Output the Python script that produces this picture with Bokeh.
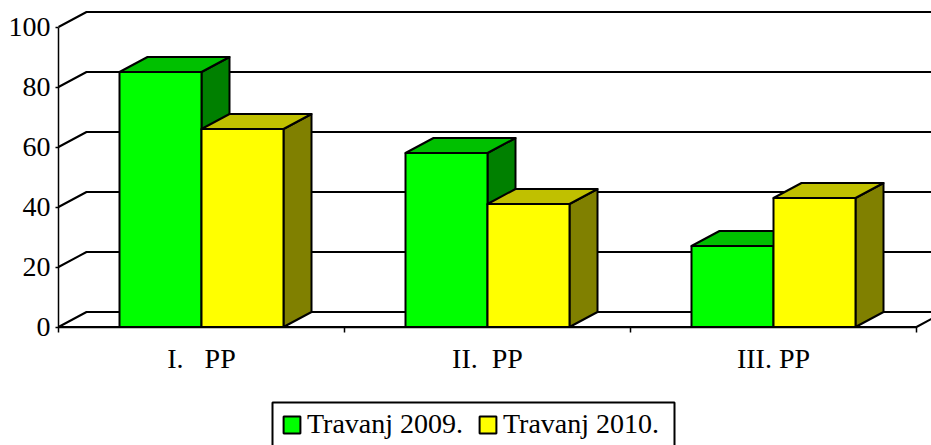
from bokeh.plotting import figure
from bokeh.embed import file_html
from bokeh.resources import INLINE
from bokeh.models import FixedTicker, Legend, LegendItem, Range1d, BoxAnnotation

categories = ["I.\u00a0\u00a0\u00a0PP", "II.\u00a0\u00a0PP", "III.\u00a0PP"]
series_names = ["Travanj 2009.", "Travanj 2010."]
travanj_2009 = [85, 58, 27]
travanj_2010 = [66, 41, 43]
y_ticks = [0, 20, 40, 60, 80, 100]

FONT = "Liberation Serif"
PX_X = 286.0      # pixels per category
PX_Y = 3.0        # pixels per value unit
DX = 28 / PX_X    # 3D depth in data units
DY = 15 / PX_Y
BAR = 82 / PX_X   # bar width in data units
LW = 2

p = figure(width=931, height=445, output_backend="svg", toolbar_location=None,
           min_border=0,
           x_range=Range1d(-58 / PX_X, 873 / PX_X), y_range=Range1d(-118.5 / PX_Y, 326.5 / PX_Y),
           background_fill_color="white", border_fill_color="white")
p.outline_line_color = None
p.grid.visible = False

xa = p.xaxis[0]
xa.fixed_location = 0
xa.ticker = FixedTicker(ticks=[i + 0.5 for i in range(len(categories))],
                        minor_ticks=list(range(len(categories) + 1)))
xa.major_label_overrides = {i + 0.5: c for i, c in enumerate(categories)}
xa.major_tick_out = 0
xa.major_tick_in = 0
xa.minor_tick_out = 5
xa.minor_tick_in = 0
xa.minor_tick_line_width = 1.5
xa.minor_tick_line_color = "black"
xa.axis_line_color = "black"
xa.axis_line_width = 1.5
xa.bounds = (0, len(categories))
xa.major_label_text_font = FONT
xa.major_label_text_font_size = "28px"
xa.major_label_text_color = "black"
xa.major_label_standoff = 11
xa.major_label_orientation = "horizontal"

ya = p.yaxis[0]
ya.fixed_location = 0
ya.ticker = FixedTicker(ticks=y_ticks)
ya.major_tick_out = 3
ya.major_tick_in = 0
ya.minor_tick_out = 0
ya.minor_tick_in = 0
ya.major_tick_line_width = 1.5
ya.axis_line_width = 1.5
ya.axis_line_color = "black"
ya.major_tick_line_color = "black"
ya.bounds = (0, 100)
ya.major_label_text_font = FONT
ya.major_label_text_font_size = "28px"
ya.major_label_text_color = "black"
ya.major_label_standoff = 5

n = len(categories)
for v in y_ticks:
    p.line([0, DX, n + DX], [v, v + DY, v + DY], line_color="black", line_width=LW)
p.line([0, n, n + DX], [0, 0, DY], line_color="black", line_width=LW)

series = [(travanj_2009, "#00FF00", "#00C000", "#008000", -1),
          (travanj_2010, "#FFFF00", "#C0C000", "#808000", 0)]
first = {}
for c in range(n):
    for s, (vals, front, top, side, off) in enumerate(series):
        x0 = c + 0.5 + off * BAR
        x1 = x0 + BAR
        v = vals[c]
        p.patch([x1, x1 + DX, x1 + DX, x1], [0, DY, v + DY, v], fill_color=side,
                line_color="black", line_width=LW, line_join="round")
        p.patch([x0, x0 + DX, x1 + DX, x1], [v, v + DY, v + DY, v], fill_color=top,
                line_color="black", line_width=LW, line_join="round")
        r = p.quad(left=x0, right=x1, bottom=0, top=v, fill_color=front,
                   line_color="black", line_width=LW)
        first.setdefault(s, r)

box = BoxAnnotation(left=272, right=674, top=43, bottom=-7,
                    left_units="screen", right_units="screen", top_units="screen", bottom_units="screen",
                    fill_alpha=0, line_color="black", line_alpha=1, line_width=2)
p.add_layout(box)

legend = Legend(items=[LegendItem(label=series_names[i], renderers=[first[i]]) for i in range(2)],
                orientation="horizontal", location=(281, 5),
                border_line_color=None, background_fill_alpha=0,
                label_text_font=FONT, label_text_font_size="28px", label_text_color="black",
                glyph_width=21, glyph_height=21, spacing=10, padding=5, margin=0,
                label_standoff=5, label_width=160)
p.add_layout(legend, "center")

open("out.html", "w").write(file_html(p, INLINE))
